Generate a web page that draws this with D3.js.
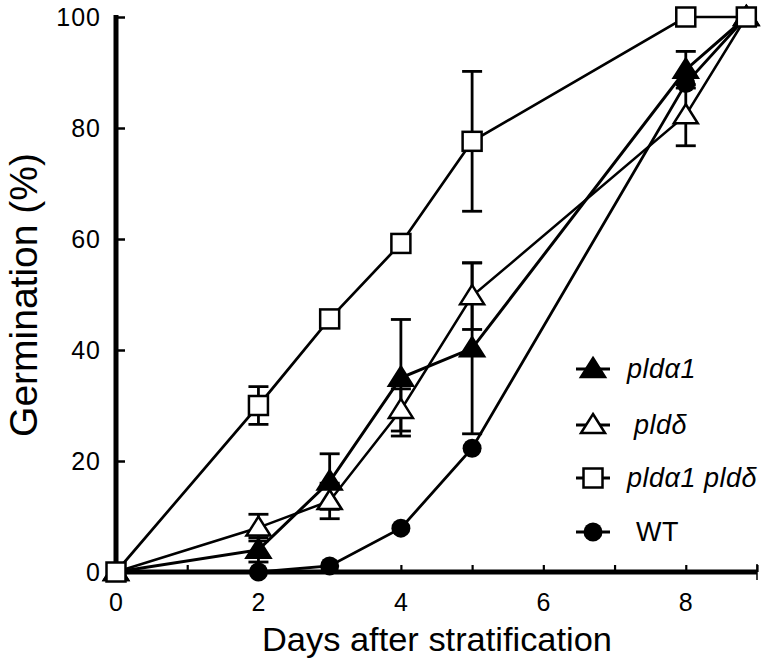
<!DOCTYPE html>
<html>
<head>
<meta charset="utf-8">
<script src="https://cdn.jsdelivr.net/npm/d3@7"></script>
<style>
  body { margin: 0; background: #fff; }
  svg { display: block; font-family: "Liberation Sans", Arial, sans-serif; }
</style>
</head>
<body>
<svg width="764" height="672"></svg>
<script>
// data
var days = [0, 2, 3, 4, 5, 8, 8.85];
var seriesNames = ["pldα1", "pldδ", "pldα1 pldδ", "WT"];
var pldA1 = [0, 4, 16.3, 35, 40.3, 90.5, 100];
var pldA1Err = [0, 2.2, 5, 10.5, 15.4, 3.3, 0];
var pldD = [0, 8, 12.8, 29.2, 49.7, 82.3, 100];
var pldDErr = [0, 2.4, 3.2, 3.8, 6, 5.5, 0];
var pldA1D = [0, 30, 45.6, 59.2, 77.6, 100, 100];
var pldA1DErr = [0, 3.4, 0, 0, 12.6, 0, 0];
var wt = [0, 0, 1.1, 7.9, 22.3, 88, 100];
var wtErr = [0, 0, 0, 0, 0, 0, 0];
var xTicks = [0, 1, 2, 3, 4, 5, 6, 7, 8, 9];
var xTickLabels = [0, 2, 4, 6, 8];
var yTicks = [0, 20, 40, 60, 80, 100];

var series = [
    {name: seriesNames[3], values: wt, err: wtErr, shape: "circle", lw: 2.8},
    {name: seriesNames[1], values: pldD, err: pldDErr, shape: "triOpen", lw: 2.5},
    {name: seriesNames[0], values: pldA1, err: pldA1Err, shape: "triFill", lw: 3},
    {name: seriesNames[2], values: pldA1D, err: pldA1DErr, shape: "square", lw: 2.7}
];

var svg = d3.select("svg");
var padLeft = 116, padRight = 757, padTop = 17, padBottom = 572;

var x = d3.scaleLinear().domain([0, 9]).range([padLeft, padRight]);
var y = d3.scaleLinear().domain([0, 100]).range([padBottom, padTop]);

function drawMarker(g, shape, cx, cy) {
    if (shape == "circle") {
        g.append("circle").attr("cx", cx).attr("cy", cy).attr("r", 9.5).attr("fill", "#000");
    } else if (shape == "square") {
        g.append("rect").attr("x", cx - 9.5).attr("y", cy - 9.5)
            .attr("width", 19).attr("height", 19)
            .attr("fill", "#fff").attr("stroke", "#000").attr("stroke-width", 2.5);
    } else {
        var p = [[cx, cy - 11], [cx + 12, cy + 8], [cx - 12, cy + 8]];
        g.append("path").attr("d", "M" + p.join("L") + "Z")
            .attr("fill", shape == "triFill" ? "#000" : "#fff")
            .attr("stroke", "#000").attr("stroke-width", 2.5)
            .attr("stroke-linejoin", "miter");
    }
}

// axes
var xAxis = d3.axisBottom(x).tickValues(xTicks).tickSize(-7).tickFormat("");
var gx = svg.append("g").attr("transform", "translate(0," + padBottom + ")").call(xAxis);
gx.select(".domain").remove();
gx.selectAll("line").attr("stroke", "#000").attr("stroke-width", 2.2);

var yAxis = d3.axisLeft(y).tickValues(yTicks).tickSize(-9).tickFormat("");
var gy = svg.append("g").attr("transform", "translate(" + padLeft + ",0)").call(yAxis);
gy.select(".domain").remove();
gy.selectAll("line").attr("stroke", "#000").attr("stroke-width", 2.5);

svg.append("line").attr("x1", padLeft).attr("x2", padLeft).attr("y1", y(100) - 2).attr("y2", padBottom + 3)
    .attr("stroke", "#000").attr("stroke-width", 5);
svg.append("line").attr("x1", padLeft - 2).attr("x2", padRight).attr("y1", padBottom).attr("y2", padBottom)
    .attr("stroke", "#000").attr("stroke-width", 5);
svg.append("line").attr("x1", padRight).attr("x2", padRight).attr("y1", padBottom - 8).attr("y2", padBottom + 8)
    .attr("stroke", "#000").attr("stroke-width", 1.5);

svg.append("g").selectAll("text").data(xTickLabels).enter().append("text")
    .attr("x", function(d){ return x(d); })
    .attr("y", 611)
    .attr("text-anchor", "middle")
    .style("font-size", "25px")
    .text(function(d){ return d; });

svg.append("g").selectAll("text").data(yTicks).enter().append("text")
    .attr("x", 101)
    .attr("y", function(d){ return y(d) + 9; })
    .attr("text-anchor", "end")
    .style("font-size", "25px")
    .style("letter-spacing", "1px")
    .text(function(d){ return d; });

svg.append("text")
    .attr("x", 437).attr("y", 651)
    .attr("text-anchor", "middle")
    .attr("textLength", 350)
    .attr("lengthAdjust", "spacingAndGlyphs")
    .style("font-size", "34px")
    .text("Days after stratification");

svg.append("text")
    .attr("transform", "translate(37,295) rotate(-90)")
    .attr("text-anchor", "middle")
    .style("font-size", "39px")
    .text("Germination (%)");

// lines
var line = d3.line()
    .x(function(d, i){ return x(days[i]); })
    .y(function(d){ return y(d); });

series.forEach(function(s){
    svg.append("path")
        .datum(s.values)
        .attr("fill", "none")
        .attr("stroke", "#000")
        .attr("stroke-width", s.lw)
        .attr("d", line);
});

// error bars
series.forEach(function(s){
    var g = svg.append("g");
    s.values.forEach(function(v, i){
        if (!s.err[i]) return;
        var cx = x(days[i]);
        var lo = Math.max(0, v - s.err[i]), hi = v + s.err[i];
        g.append("line").attr("x1", cx).attr("x2", cx).attr("y1", y(lo)).attr("y2", y(hi))
            .attr("stroke", "#000").attr("stroke-width", 2.8);
        [lo, hi].forEach(function(e){
            if (e <= 0) return;
            g.append("line").attr("x1", cx - 10).attr("x2", cx + 10).attr("y1", y(e)).attr("y2", y(e))
                .attr("stroke", "#000").attr("stroke-width", 2.8);
        });
    });
});

// markers
series.forEach(function(s){
    var g = svg.append("g");
    s.values.forEach(function(v, i){
        drawMarker(g, s.shape, x(days[i]), y(v));
    });
});

// legend
var legendOrder = [series[2], series[1], series[3], series[0]];
var legendY = [369, 425, 478, 532];
var legendTextX = [627, 634, 627, 636];
legendOrder.forEach(function(s, i){
    var g = svg.append("g");
    g.append("line").attr("x1", 576).attr("x2", 610).attr("y1", legendY[i]).attr("y2", legendY[i])
        .attr("stroke", "#000").attr("stroke-width", 2.8);
    drawMarker(g, s.shape, 593, legendY[i]);
    g.append("text")
        .attr("x", legendTextX[i]).attr("y", legendY[i] + 9)
        .style("font-size", "27px")
        .style("letter-spacing", "0.5px")
        .style("font-style", s.name == "WT" ? "normal" : "italic")
        .text(s.name);
});
</script>
</body>
</html>
